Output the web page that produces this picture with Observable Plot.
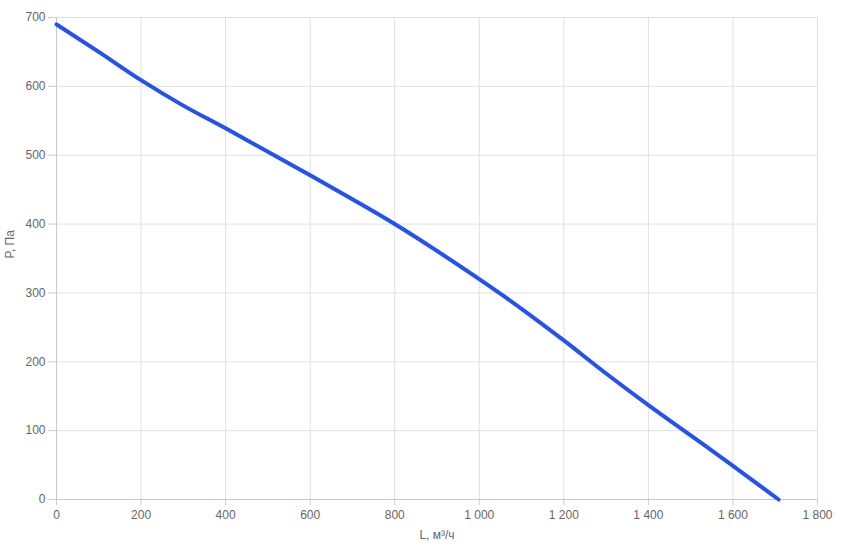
<!DOCTYPE html>
<html>
<head>
<meta charset="utf-8">
<script src="https://cdn.jsdelivr.net/npm/d3@7"></script>
<script src="https://cdn.jsdelivr.net/npm/@observablehq/plot@0.6"></script>
<style>
  html, body { margin: 0; padding: 0; background: #fff; }
  #chart { width: 845px; height: 550px; }
</style>
</head>
<body>
<div id="chart"></div>
<script>
const flowL = [0, 100, 200, 300, 400, 500, 600, 700, 800, 900, 1000, 1100, 1200, 1300, 1400, 1500, 1600, 1708];
const pressureP = [690, 650, 609, 572, 539, 505, 471, 436, 400, 361, 320, 277, 231, 183, 137, 93, 49, 0];
const xTicks = [0, 200, 400, 600, 800, 1000, 1200, 1400, 1600, 1800];
const yTicks = [0, 100, 200, 300, 400, 500, 600, 700];
const xLabel = "L, м³/ч";
const yLabel = "P, Па";

const data = flowL.map((l, i) => ({L: l, P: pressureP[i]}));
const fmt = d3.formatLocale({decimal: ",", thousands: "\u00a0", grouping: [3], currency: ["", ""]}).format(",d");

const chart = Plot.plot({
  width: 845,
  height: 550,
  marginLeft: 56,
  marginRight: 28,
  marginTop: 17,
  marginBottom: 51,
  style: {fontFamily: "Arial, 'Liberation Sans', sans-serif", fontSize: "12px", color: "#666", background: "#fff"},
  x: {domain: [0, 1800]},
  y: {domain: [0, 700]},
  marks: [
    Plot.gridX(xTicks, {stroke: "#e0e0e0", strokeOpacity: 1}),
    Plot.gridY(yTicks, {stroke: "#e0e0e0", strokeOpacity: 1}),
    Plot.axisX(xTicks, {tickSize: 6, tickPadding: 5, tickFormat: fmt, stroke: "#ccc", fill: "#666", label: null}),
    Plot.axisY(yTicks, {tickSize: 8, tickPadding: 3, tickFormat: fmt, stroke: "#ccc", fill: "#666", label: null}),
    Plot.ruleX([0], {stroke: "#c8c8c8"}),
    Plot.ruleY([0], {stroke: "#c8c8c8"}),
    Plot.line(data, {x: "L", y: "P", curve: "monotone-x", stroke: "#2351f2", strokeWidth: 4}),
    Plot.text([xLabel], {frameAnchor: "bottom", dy: 39, fill: "#666", fontSize: 12}),
    Plot.text([yLabel], {frameAnchor: "left", dx: -46, rotate: -90, fill: "#666", fontSize: 12})
  ]
});
document.getElementById("chart").appendChild(chart);
</script>
</body>
</html>
